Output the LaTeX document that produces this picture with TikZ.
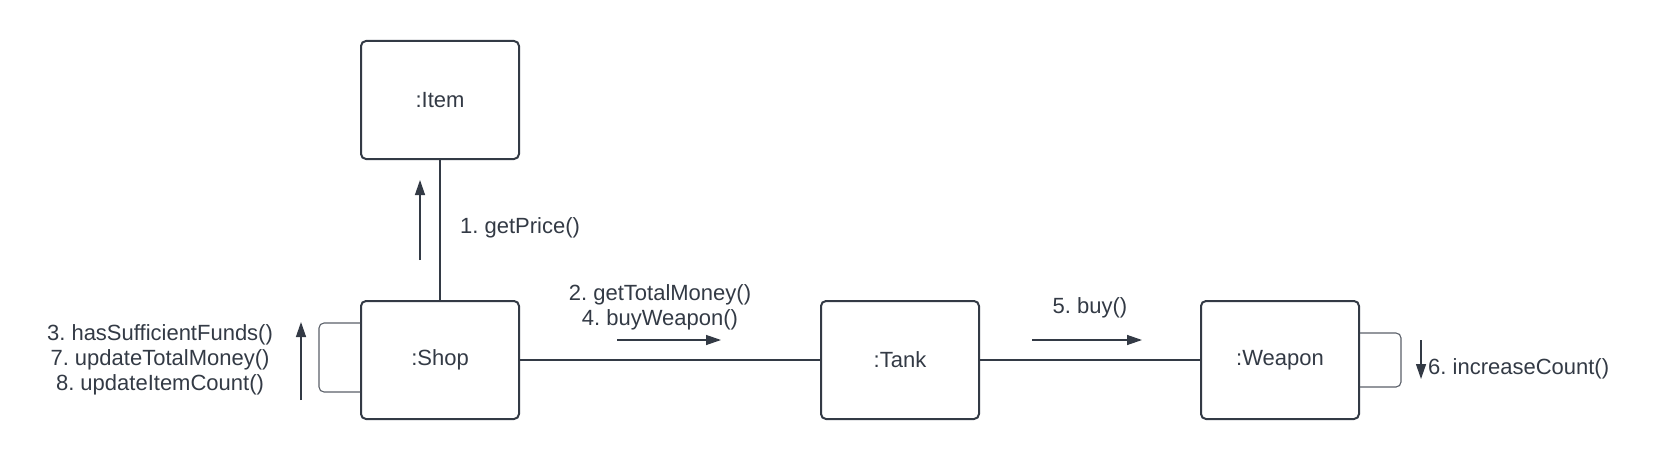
\documentclass[tikz,border=0pt]{standalone}
\usepackage{fontspec}
\setmainfont{Liberation Sans}
\usetikzlibrary{arrows.meta}
\definecolor{ink}{HTML}{333A45}
\definecolor{loopc}{HTML}{5A6069}
\frenchspacing
\tikzset{
  obj/.style={draw=ink, line width=2pt, rounded corners=5pt, minimum width=158pt, minimum height=118pt, inner sep=0pt, text=ink, font=\fontsize{22}{25}\selectfont},
  link/.style={draw=ink, line width=1.3pt},
  selfloop/.style={draw=loopc, line width=1.1pt, rounded corners=5pt},
  msg/.style={draw=ink, line width=1.3pt, -{Triangle[length=15pt,width=10pt]}},
  lbl/.style={text=ink, font=\fontsize{22}{25}\selectfont, inner sep=0pt, align=center}
}
\begin{document}
\begin{tikzpicture}[x=1pt,y=-1pt]
\frenchspacing
\useasboundingbox (0,0) rectangle (1680,460);
\node[obj] (item) at (440,100) {:Item};
\node[obj] (shop) at (440,360) {:Shop};
\node[obj] (tank) at (900,360) {:Tank};
\node[obj] (weapon) at (1280,360) {:Weapon};

\draw[link] (item.south) -- (shop.north);
\draw[link] (shop.east) -- (tank.west);
\draw[link] (tank.east) -- (weapon.west);

% self loops
\draw[selfloop] ([yshift=37pt]shop.west) -- ++(-41,0) -- ++(0,69) -- ([yshift=-32pt]shop.west);
\draw[selfloop] ([yshift=27pt]weapon.east) -- ++(41,0) -- ++(0,54) -- ([yshift=-27pt]weapon.east);

% message arrows
\coordinate (a1s) at (420,260); \coordinate (a1e) at (420,180);
\coordinate (a3s) at (301,400); \coordinate (a3e) at (301,322);
\coordinate (a2s) at (617,340); \coordinate (a2e) at (721,340);
\coordinate (a5s) at (1032,340); \coordinate (a5e) at (1142,340);
\coordinate (a6s) at (1421,340); \coordinate (a6e) at (1421,379);
\draw[msg] (a1s) -- (a1e);
\draw[msg] (a3s) -- (a3e);
\draw[msg] (a2s) -- (a2e);
\draw[msg] (a5s) -- (a5e);
\draw[msg] (a6s) -- (a6e);

% labels
\node[lbl, anchor=west] (l1) at (460,228) {1. getPrice()};
\node[lbl] (l3) at (160,360) {3. hasSufficientFunds()\\7. updateTotalMoney()\\8. updateItemCount()};
\node[lbl] (l2) at (660,307) {2. getTotalMoney()\\4. buyWeapon()};
\node[lbl] (l5) at (1090,308) {5. buy()};
\node[lbl, anchor=west] (l6) at (1428,369) {6. increaseCount()};
\end{tikzpicture}
\end{document}
